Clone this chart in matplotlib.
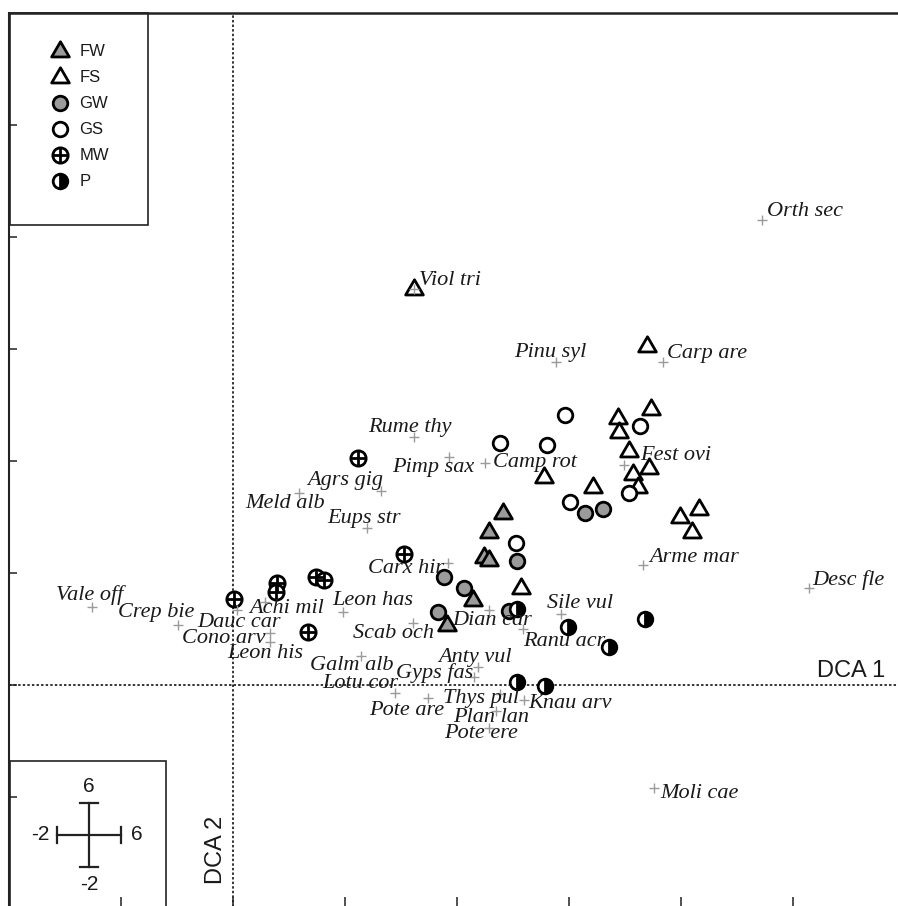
import numpy as np
import matplotlib.pyplot as plt
from matplotlib.patches import Rectangle
from matplotlib.lines import Line2D
from matplotlib.path import Path

# sample scores on DCA 1 / DCA 2, by group
fw_x = [2.41, 2.29, 2.24, 2.29, 2.14, 1.91]
fw_y = [1.54, 1.37, 1.14, 1.12, 0.76, 0.54]
fs_x = [3.70, 3.44, 3.73, 3.45, 3.54, 3.71, 3.57, 3.62, 2.78, 3.21, 3.99, 4.16, 4.10, 2.57, 1.62]
fs_y = [3.03, 2.38, 2.46, 2.26, 2.09, 1.94, 1.88, 1.77, 1.86, 1.77, 1.50, 1.57, 1.37, 0.87, 3.54]
gw_x = [3.14, 3.30, 2.54, 1.88, 2.06, 1.83, 2.46]
gw_y = [1.54, 1.57, 1.11, 0.96, 0.87, 0.65, 0.66]
gs_x = [2.96, 3.63, 2.38, 2.80, 3.54, 3.01, 2.53]
gs_y = [2.41, 2.31, 2.16, 2.14, 1.71, 1.63, 1.27]
mw_x = [1.12, 1.53, 0.01, 0.39, 0.38, 0.74, 0.81, 0.67]
mw_y = [2.03, 1.17, 0.77, 0.91, 0.83, 0.96, 0.94, 0.47]
p_x = [2.54, 2.99, 3.68, 3.36, 2.54, 2.79]
p_y = [0.68, 0.52, 0.59, 0.34, 0.03, -0.01]

# species scores
species = ["Orth sec", "Viol tri", "Pinu syl", "Carp are", "Rume thy", "Pimp sax",
           "Camp rot", "Fest ovi", "Agrs gig", "Meld alb", "Eups str", "Arme mar",
           "Carx hir", "Desc fle", "Vale off", "Crep bie", "Dauc car", "Achi mil",
           "Leon has", "Cono arv", "Leon his", "Scab och", "Dian car", "Sile vul",
           "Ranu acr", "Galm alb", "Anty vul", "Gyps fas", "Lotu cor", "Pote are",
           "Thys pul", "Knau arv", "Plan lan", "Pote ere", "Moli cae"]
sp_x = [4.72, 1.62, 2.88, 3.84, 1.62, 1.93, 2.25, 3.49, 1.32, 0.59, 1.20, 3.66,
        1.92, 5.14, -1.26, -0.49, 0.04, 0.29, 0.98, 0.33, 0.33, 1.61, 2.29, 2.93,
        2.59, 1.14, 2.19, 2.15, 1.45, 1.74, 2.38, 2.60, 2.35, 2.29, 3.76]
sp_y = [4.15, 3.54, 2.88, 2.88, 2.21, 2.04, 1.98, 1.96, 1.73, 1.71, 1.40, 1.07,
        1.09, 0.87, 0.70, 0.54, 0.67, 0.74, 0.65, 0.46, 0.38, 0.55, 0.67, 0.63,
        0.50, 0.26, 0.16, 0.07, -0.07, -0.12, -0.08, -0.13, -0.23, -0.38, -0.92]

# where each name sits relative to its cross (pixels, left/baseline)
label_off = [(5, 4), (5, 4), (-41, 5), (4, 4), (-46, 5), (-57, -15), (8, -4), (16, 5),
             (-74, 6), (-54, -15), (-40, 5), (6, 3), (-80, -10), (4, 3), (-36, 7),
             (-60, 8), (-40, -17), (-16, -11), (-10, 7), (-88, -10), (-43, -16),
             (-60, -15), (-37, -15), (-14, 6), (0, -17), (-51, -14), (-40, 5),
             (-78, -1), (-73, 5), (-59, -17), (-57, -9), (4, -8), (-43, -11),
             (-45, -10), (6, -10)]

W, H = 898, 906
gray = "#9b9b9b"
sans = "Liberation Sans"


def fx(px):
    return px / W


def fy(py):
    return (H - py) / H


fig = plt.figure(figsize=(W / 100, H / 100), dpi=100)
ax = fig.add_axes([fx(9), fy(909), 896 / W, 896 / H])
ax.set_xlim(-2, 6)
ax.set_ylim(-2, 6)
ax.set_xticks(np.arange(-1, 6))
ax.set_yticks(np.arange(-1, 6))
ax.set_xticklabels([])
ax.set_yticklabels([])
ax.tick_params(direction="in", length=6, width=1.1, color="#222222")
ax.tick_params(axis="x", length=9)
for s in ["right", "bottom"]:
    ax.spines[s].set_visible(False)
ax.spines["top"].set_linewidth(1.8)
ax.spines["left"].set_linewidth(1.5)
for s in ["top", "left"]:
    ax.spines[s].set_color("#222222")

dots = (0, (1.6, 1.4))
ax.axhline(0, color="black", lw=1.1, ls=dots, zorder=1)
ax.axvline(0, color="black", lw=1.1, ls=dots, zorder=1)

tri = Path([(-1, -0.62), (1, -0.62), (0, 1.1), (-1, -0.62)],
           [Path.MOVETO, Path.LINETO, Path.LINETO, Path.CLOSEPOLY])
ts, cs = 14, 10.5
mk = dict(mec="black", mew=2.0, ls="none", zorder=3)
ax.plot(fs_x, fs_y, marker=tri, ms=ts, mfc="white", **mk)
ax.plot(fw_x, fw_y, marker=tri, ms=ts, mfc=gray, **mk)
ax.plot(gs_x, gs_y, marker="o", ms=cs, mfc="white", **mk)
ax.plot(gw_x, gw_y, marker="o", ms=cs, mfc=gray, **mk)
ax.plot(mw_x, mw_y, marker="o", ms=cs + 0.5, mfc="white", **mk)
ax.plot(mw_x, mw_y, marker="+", ms=cs + 0.5, color="black", mew=2.0, ls="none", zorder=3)
ax.plot(p_x, p_y, marker="o", ms=cs, fillstyle="right", mfc="black",
        markerfacecoloralt="white", **mk)

ax.plot(sp_x, sp_y, "+", color=gray, ms=6.5, mew=1.0, ls="none", zorder=4)
for name, x, y, off in zip(species, sp_x, sp_y, label_off):
    ax.annotate(name, (x, y), xytext=off, textcoords="offset pixels",
                ha="left", va="baseline", fontsize=16, fontstyle="italic",
                family="Liberation Serif", color="#1a1a1a", zorder=5)

ax.text(fx(885), fy(677), "DCA 1", transform=fig.transFigure, ha="right",
        va="baseline", fontsize=17, family=sans, color="#1a1a1a")
ax.text(fx(216), fy(850), "DCA 2", transform=fig.transFigure, ha="center",
        va="center", rotation=90, fontsize=17, family=sans, color="#1a1a1a")

# legend box
fig.add_artist(Rectangle((fx(10), fy(225)), 138 / W, 212 / H, fill=False,
                         ec="#222222", lw=1.2, transform=fig.transFigure))
h_fw = Line2D([], [], marker=tri, ms=ts, mfc=gray, **mk)
h_fs = Line2D([], [], marker=tri, ms=ts, mfc="white", **mk)
h_gw = Line2D([], [], marker="o", ms=cs, mfc=gray, **mk)
h_gs = Line2D([], [], marker="o", ms=cs, mfc="white", **mk)
h_mw = (Line2D([], [], marker="o", ms=cs + 0.5, mfc="white", **mk),
        Line2D([], [], marker="+", ms=cs + 0.5, color="black", mew=2.0, ls="none"))
h_p = Line2D([], [], marker="o", ms=cs, fillstyle="right", mfc="black",
             markerfacecoloralt="white", **mk)
leg = ax.legend([h_fw, h_fs, h_gw, h_gs, h_mw, h_p], ["FW", "FS", "GW", "GS", "MW", "P"],
                loc="upper left", bbox_to_anchor=(fx(42), fy(36)),
                bbox_transform=fig.transFigure, frameon=False, borderpad=0,
                handlelength=1.2, handletextpad=0.55, labelspacing=0.66,
                prop=dict(family=sans, size=12))
for t in leg.get_texts():
    t.set_color("#1a1a1a")

# scale cross box
fig.add_artist(Rectangle((fx(10), fy(920)), 156 / W, 159 / H, fill=False,
                         ec="#222222", lw=1.2, transform=fig.transFigure))
cx, cy, r = 89, 835, 32
lk = dict(color="#222222", lw=1.6, transform=fig.transFigure)
fig.add_artist(Line2D([fx(cx - r), fx(cx + r)], [fy(cy), fy(cy)], **lk))
fig.add_artist(Line2D([fx(cx), fx(cx)], [fy(cy - r), fy(cy + r)], **lk))
for e in (-r, r):
    fig.add_artist(Line2D([fx(cx + e), fx(cx + e)], [fy(cy - 8), fy(cy + 8)], **lk))
    fig.add_artist(Line2D([fx(cx - 9), fx(cx + 9)], [fy(cy + e), fy(cy + e)], **lk))
tk = dict(transform=fig.transFigure, fontsize=15, family=sans, color="#1a1a1a", va="center")
fig.text(fx(cx), fy(787), "6", ha="center", **tk)
fig.text(fx(cx), fy(884), "-2", ha="center", **tk)
fig.text(fx(50), fy(835), "-2", ha="right", **tk)
fig.text(fx(131), fy(835), "6", ha="left", **tk)

fig.savefig("out.png", dpi=100)
